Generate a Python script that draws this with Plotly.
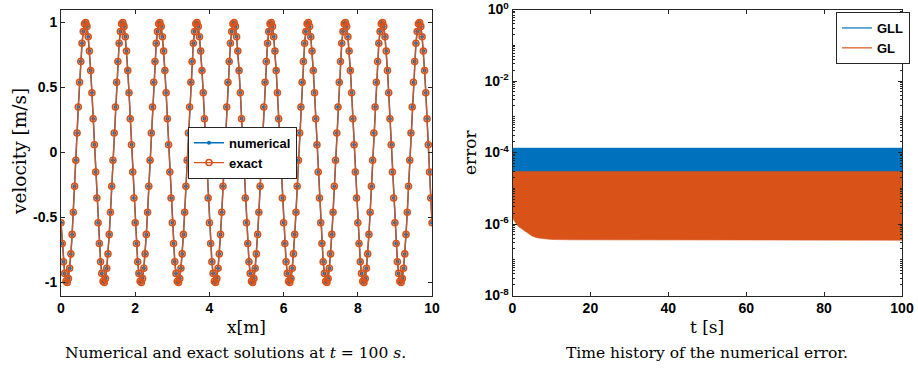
import numpy as np
import plotly.graph_objects as go

# ---------------- data: left panel (velocity vs x) ----------------
x_m = np.linspace(0, 10, 301)
velocity_exact = [
    -0.54, -0.70, -0.84, -0.93, -0.99, -1.00, -0.97, -0.89, -0.78, -0.63, -0.46, -0.26, -0.06, 0.15, 0.35,
    0.54, 0.70, 0.84, 0.93, 0.99, 1.00, 0.97, 0.89, 0.78, 0.63, 0.46, 0.26, 0.06, -0.15, -0.35,
    -0.54, -0.70, -0.84, -0.93, -0.99, -1.00, -0.97, -0.89, -0.78, -0.63, -0.46, -0.26, -0.06, 0.15, 0.35,
    0.54, 0.70, 0.84, 0.93, 0.99, 1.00, 0.97, 0.89, 0.78, 0.63, 0.46, 0.26, 0.06, -0.15, -0.35,
    -0.54, -0.70, -0.84, -0.93, -0.99, -1.00, -0.97, -0.89, -0.78, -0.63, -0.46, -0.26, -0.06, 0.15, 0.35,
    0.54, 0.70, 0.84, 0.93, 0.99, 1.00, 0.97, 0.89, 0.78, 0.63, 0.46, 0.26, 0.06, -0.15, -0.35,
    -0.54, -0.70, -0.84, -0.93, -0.99, -1.00, -0.97, -0.89, -0.78, -0.63, -0.46, -0.26, -0.06, 0.15, 0.35,
    0.54, 0.70, 0.84, 0.93, 0.99, 1.00, 0.97, 0.89, 0.78, 0.63, 0.46, 0.26, 0.06, -0.15, -0.35,
    -0.54, -0.70, -0.84, -0.93, -0.99, -1.00, -0.97, -0.89, -0.78, -0.63, -0.46, -0.26, -0.06, 0.15, 0.35,
    0.54, 0.70, 0.84, 0.93, 0.99, 1.00, 0.97, 0.89, 0.78, 0.63, 0.46, 0.26, 0.06, -0.15, -0.35,
    -0.54, -0.70, -0.84, -0.93, -0.99, -1.00, -0.97, -0.89, -0.78, -0.63, -0.46, -0.26, -0.06, 0.15, 0.35,
    0.54, 0.70, 0.84, 0.93, 0.99, 1.00, 0.97, 0.89, 0.78, 0.63, 0.46, 0.26, 0.06, -0.15, -0.35,
    -0.54, -0.70, -0.84, -0.93, -0.99, -1.00, -0.97, -0.89, -0.78, -0.63, -0.46, -0.26, -0.06, 0.15, 0.35,
    0.54, 0.70, 0.84, 0.93, 0.99, 1.00, 0.97, 0.89, 0.78, 0.63, 0.46, 0.26, 0.06, -0.15, -0.35,
    -0.54, -0.70, -0.84, -0.93, -0.99, -1.00, -0.97, -0.89, -0.78, -0.63, -0.46, -0.26, -0.06, 0.15, 0.35,
    0.54, 0.70, 0.84, 0.93, 0.99, 1.00, 0.97, 0.89, 0.78, 0.63, 0.46, 0.26, 0.06, -0.15, -0.35,
    -0.54, -0.70, -0.84, -0.93, -0.99, -1.00, -0.97, -0.89, -0.78, -0.63, -0.46, -0.26, -0.06, 0.15, 0.35,
    0.54, 0.70, 0.84, 0.93, 0.99, 1.00, 0.97, 0.89, 0.78, 0.63, 0.46, 0.26, 0.06, -0.15, -0.35,
    -0.54, -0.70, -0.84, -0.93, -0.99, -1.00, -0.97, -0.89, -0.78, -0.63, -0.46, -0.26, -0.06, 0.15, 0.35,
    0.54, 0.70, 0.84, 0.93, 0.99, 1.00, 0.97, 0.89, 0.78, 0.63, 0.46, 0.26, 0.06, -0.15, -0.35,
    -0.54,
]
velocity_numerical = list(velocity_exact)  # coincides with exact at plot resolution

# ---------------- data: right panel (error envelopes vs t) ----------------
t_s = [0, 0.3, 1, 1.5, 2, 3, 4, 5, 6, 7, 8, 10, 15, 20, 30, 40, 50, 60, 70, 80, 90, 100]
gll_upper = [1.33e-4] * 22
gll_lower = [2.0e-5] * 22
gl_upper = [2.95e-5] * 22
gl_lower = [1.6e-6, 1.3e-6, 1.0e-6, 8.5e-7, 7.5e-7, 6.5e-7, 5.5e-7, 4.6e-7, 4.2e-7, 4.0e-7, 3.8e-7,
            3.7e-7, 3.6e-7, 3.6e-7, 3.55e-7, 3.55e-7, 3.5e-7, 3.5e-7, 3.5e-7, 3.5e-7, 3.5e-7, 3.5e-7]

x_ticks_left = [0, 2, 4, 6, 8, 10]
y_ticks_left = [-1, -0.5, 0, 0.5, 1]
y_ticklabels_left = ["-1", "-0.5", "0", "0.5", "1"]
x_ticks_right = [0, 20, 40, 60, 80, 100]
y_ticks_right = [1e-8, 1e-6, 1e-4, 1e-2, 1]
y_ticklabels_right = ["10<sup>-8</sup>", "10<sup>-6</sup>", "10<sup>-4</sup>", "10<sup>-2</sup>", "10<sup>0</sup>"]

BLUE = "#0072BD"
ORANGE = "#D95319"
AX = "#262626"
W, H = 918, 368

fig = go.Figure()

fig.add_trace(go.Scatter(
    x=x_m, y=velocity_numerical, mode="lines+markers", name="numerical",
    line=dict(color=BLUE, width=1.5), marker=dict(symbol="circle", size=4, color=BLUE),
    xaxis="x", yaxis="y", legend="legend"))
fig.add_trace(go.Scatter(
    x=x_m, y=velocity_exact, mode="lines+markers", name="exact",
    line=dict(color=ORANGE, width=1.3),
    marker=dict(symbol="circle-open", size=6, color=ORANGE, line=dict(width=1.6, color=ORANGE)),
    xaxis="x", yaxis="y", legend="legend"))

# right panel: oscillation band of each error signal
fig.add_trace(go.Scatter(
    x=t_s + t_s[::-1], y=gll_upper + gll_lower[::-1], fill="toself", fillcolor=BLUE,
    mode="lines", line=dict(color=BLUE, width=0.5), showlegend=False, hoverinfo="skip",
    xaxis="x2", yaxis="y2"))
fig.add_trace(go.Scatter(
    x=t_s + t_s[::-1], y=gl_upper + gl_lower[::-1], fill="toself", fillcolor=ORANGE,
    mode="lines", line=dict(color=ORANGE, width=0.5), showlegend=False, hoverinfo="skip",
    xaxis="x2", yaxis="y2"))
fig.add_trace(go.Scatter(x=[None], y=[None], mode="lines", name="GLL",
                         line=dict(color=BLUE, width=1.2), xaxis="x2", yaxis="y2", legend="legend2"))
fig.add_trace(go.Scatter(x=[None], y=[None], mode="lines", name="GL",
                         line=dict(color=ORANGE, width=1.2), xaxis="x2", yaxis="y2", legend="legend2"))

tickfont = dict(family="Liberation Sans, Arial", size=14, color="#000000", weight="bold")
common = dict(showline=True, linecolor=AX, linewidth=1, mirror="allticks", ticks="inside",
              ticklen=4, tickcolor=AX, showgrid=False, zeroline=False, tickfont=tickfont,
              automargin=False, ticklabeloverflow="allow")

ydom = [1 - 295.5 / H, 1 - 9.5 / H]
minor_vals = [m * 10.0 ** e for e in range(-8, 0) for m in range(1, 10) if not (m == 1 and e % 2 == 0)]

legend_font = dict(family="Liberation Sans, Arial", size=13, color="#000000", weight="bold")
fig.update_layout(
    width=W, height=H, margin=dict(l=0, r=0, t=0, b=0, autoexpand=False),
    paper_bgcolor="white", plot_bgcolor="white",
    xaxis=dict(domain=[61 / W, 432 / W], range=[0, 10], tickvals=x_ticks_left, anchor="y", **common),
    yaxis=dict(domain=ydom, range=[-1.1, 1.1], tickvals=y_ticks_left, ticktext=y_ticklabels_left,
               anchor="x", **common),
    xaxis2=dict(domain=[512.5 / W, 902 / W], range=[0, 100], tickvals=x_ticks_right, anchor="y2", **common),
    yaxis2=dict(domain=ydom, type="log", range=[-8, 0], tickvals=y_ticks_right, ticktext=y_ticklabels_right,
                anchor="x2",
                minor=dict(tickvals=minor_vals, ticks="inside", ticklen=2, tickcolor=AX, showgrid=False),
                **common),
    legend=dict(x=188 / W, y=1 - 126.7 / H, xanchor="left", yanchor="top", bgcolor="white",
                bordercolor=AX, borderwidth=1, itemwidth=30, tracegroupgap=0, font=legend_font),
    legend2=dict(x=836 / W, y=1 - 12 / H, xanchor="left", yanchor="top", bgcolor="white",
                 bordercolor=AX, borderwidth=1, itemwidth=30, tracegroupgap=0, font=legend_font),
    showlegend=True,
)

serif = "DejaVu Serif, Liberation Serif, serif"
annots = [
    dict(text="velocity [m/s]", x=19 / W, y=1 - 152 / H, textangle=-90, size=18.5),
    dict(text="x[m]", x=246 / W, y=1 - 327 / H, textangle=0, size=17),
    dict(text="error", x=470 / W, y=1 - 152 / H, textangle=-90, size=17),
    dict(text="t [s]", x=707 / W, y=1 - 327 / H, textangle=0, size=17),
    dict(text="Numerical and exact solutions at <i>t</i> = 100 <i>s</i>.", x=235 / W, y=1 - 353 / H,
         textangle=0, size=15.5),
    dict(text="Time history of the numerical error.", x=707 / W, y=1 - 353 / H, textangle=0, size=15.5),
]
for a in annots:
    fig.add_annotation(text=a["text"], x=a["x"], y=a["y"], xref="paper", yref="paper",
                       xanchor="center", yanchor="middle", textangle=a["textangle"], showarrow=False,
                       font=dict(family=serif, size=a["size"], color="#000000"))

fig.write_html("out.html")
